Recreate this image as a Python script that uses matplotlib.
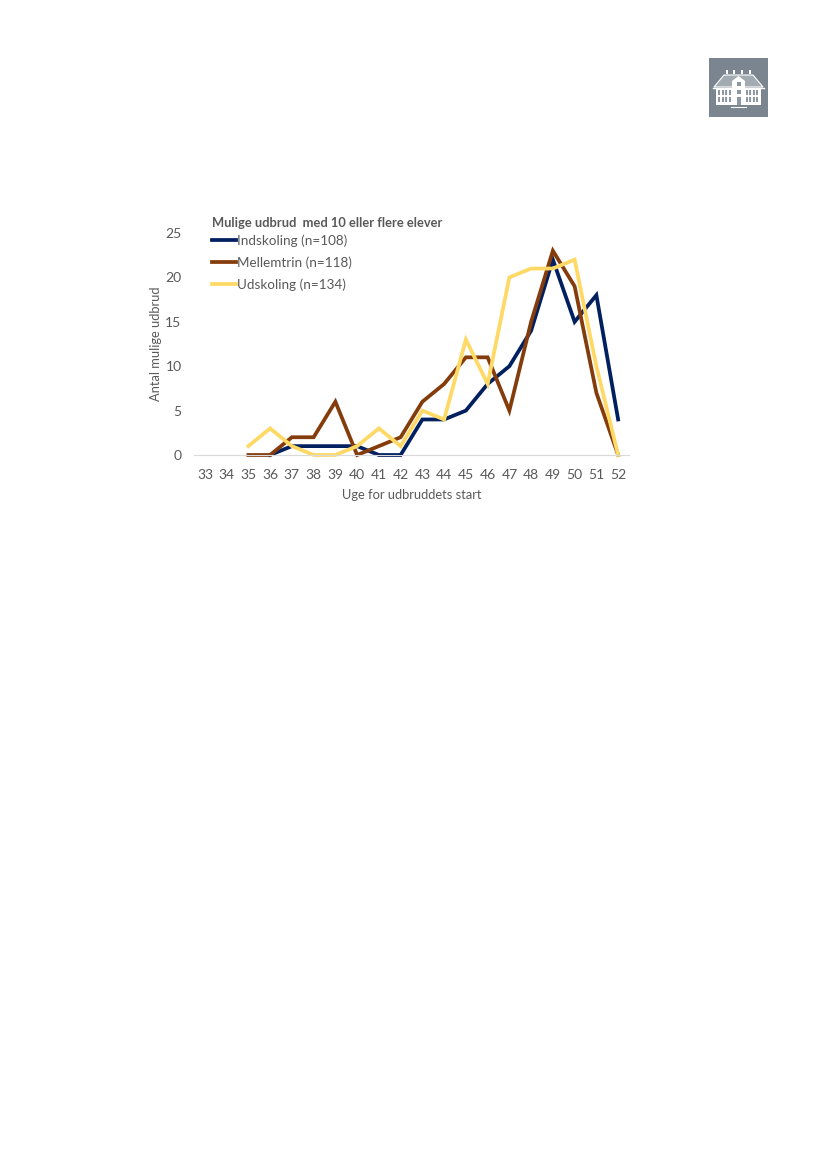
import numpy as np
import matplotlib
matplotlib.use("Agg")
import matplotlib.pyplot as plt
from matplotlib.patches import Rectangle, Polygon

# Chart data
weeks = list(range(33, 53))
indskoling = [None, None, None, 0, 1, 1, 1, 1, 0, 0, 4, 4, 5, 8, 10, 14, 22, 15, 18, 4]
mellemtrin = [None, None, 0, 0, 2, 2, 6, 0, 1, 2, 6, 8, 11, 11, 5, 15, 23, 19, 7, 0]
udskoling = [None, None, 1, 3, 1, 0, 0, 1, 3, 1, 5, 4, 13, 8, 20, 21, 21, 22, 10, 0]
series_names = ["Indskoling (n=108)", "Mellemtrin (n=118)", "Udskoling (n=134)"]
y_ticks = [0, 5, 10, 15, 20, 25]

W, H = 827, 1169
plt.rcParams['font.family'] = ['Lato', 'DejaVu Sans']
text_col = '#595959'

fig = plt.figure(figsize=(W / 100, H / 100), dpi=100)

# Plot area, placed in page pixels
ax = fig.add_axes([194 / W, 1 - 455 / H, 435 / W, 222 / H])
x = np.arange(len(weeks))
for vals, name, col in zip([indskoling, mellemtrin, udskoling], series_names,
                           ['#002060', '#843C0C', '#FFD966']):
    y = np.array([np.nan if v is None else v for v in vals], dtype=float)
    ax.plot(x, y, color=col, lw=2.7, label=name, solid_joinstyle='miter', clip_on=False)

ax.set_xlim(-0.5, len(weeks) - 0.5)
ax.set_ylim(0, 25)
ax.set_xticks(x)
ax.set_xticklabels(weeks)
ax.set_yticks(y_ticks)
ax.tick_params(length=0, labelsize=10, labelcolor=text_col)
ax.tick_params(axis='x', pad=10)
ax.tick_params(axis='y', pad=9)
for s in ['top', 'right', 'left']:
    ax.spines[s].set_visible(False)
ax.spines['bottom'].set_color('#D9D9D9')
ax.spines['bottom'].set_linewidth(0.8)

ax.set_xlabel("Uge for udbruddets start", fontsize=9.3, color=text_col, labelpad=6)
ax.set_ylabel("Antal mulige udbrud", fontsize=9.3, color=text_col, labelpad=2)

ax.legend(loc='upper left', bbox_to_anchor=(18 / 435, 0.995), frameon=False, fontsize=9.7,
          labelcolor=text_col, handlelength=1.8, handletextpad=0.08, labelspacing=0.72,
          borderpad=0, borderaxespad=0)
fig.text(212 / W, 1 - 223 / H, "Mulige udbrud  med 10 eller flere elever", fontsize=9.3,
         fontweight='bold', color=text_col, va='center')

# Logo, top right
logo = fig.add_axes([709 / W, 1 - 117 / H, 59 / W, 59 / H])
logo.set_xlim(0, 59)
logo.set_ylim(59, 0)
logo.axis('off')
logo.add_patch(Rectangle((0, 0), 59, 59, color='#7A858F', lw=0))
# roof and chimneys
logo.add_patch(Polygon([[5, 29], [15, 17], [44, 17], [54, 29]], fc='#A3ABB2', ec='white', lw=0.8))
for cx in [18, 25, 33, 41]:
    logo.add_patch(Rectangle((cx - 1.3, 12), 2.6, 3.5, color='white', lw=0))
logo.plot([4, 55], [29.5, 29.5], color='white', lw=1)
# building
logo.add_patch(Rectangle((7, 30), 45, 17, color='white', lw=0))
logo.add_patch(Polygon([[23, 30], [23, 23], [29.5, 18], [36, 23], [36, 30]], color='white', lw=0))
for wx in [9, 12.5, 16, 19.5, 36.5, 40, 43.5, 47]:
    for wy in [32, 39]:
        logo.add_patch(Rectangle((wx, wy), 2.3, 4.5, color='#8E98A1', lw=0))
for wy, wh in [(24, 4), (32, 4), (39, 8)]:
    logo.add_patch(Rectangle((27.5, wy), 4, wh, color='#8E98A1', lw=0))
logo.plot([22, 37], [49, 49], color='white', lw=0.8)

fig.savefig("out.png", dpi=100)
